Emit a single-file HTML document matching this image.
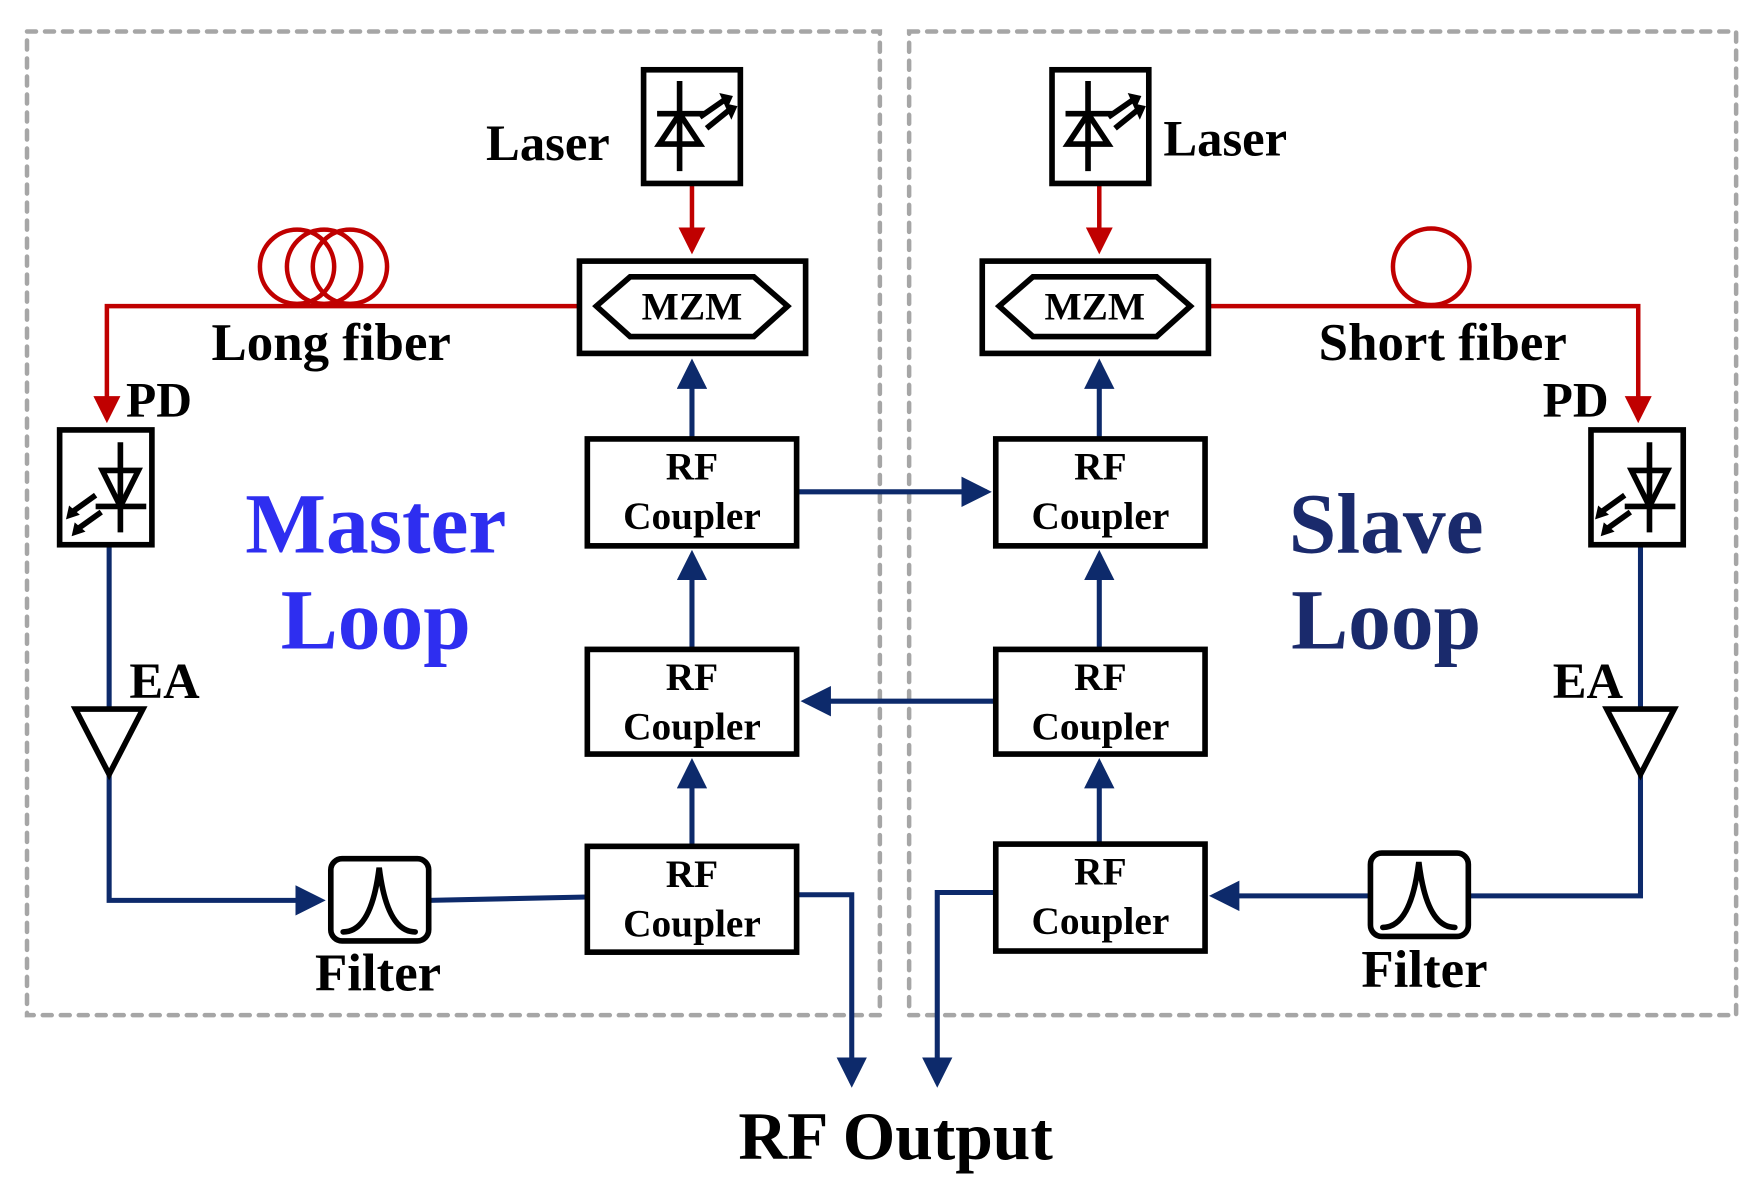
<!DOCTYPE html>
<html><head><meta charset="utf-8"><style>html,body{margin:0;padding:0;background:#fff}svg{display:block}</style></head>
<body>
<svg width="1762" height="1184" viewBox="0 0 1566 1052" preserveAspectRatio="none" xmlns="http://www.w3.org/2000/svg" font-family="Liberation Serif, serif" font-weight="bold">
<defs>
<marker id="ar" markerWidth="6" markerHeight="6" refX="5" refY="3" orient="auto" markerUnits="strokeWidth"><path d="M0,0 L6,3 L0,6 z" fill="#c00000"/></marker>
<marker id="ab" markerWidth="6" markerHeight="6" refX="5" refY="3" orient="auto" markerUnits="strokeWidth"><path d="M0,0 L6,3 L0,6 z" fill="#0d2a6b"/></marker>
</defs>
<g fill="none" stroke="#a6a6a6" stroke-width="4" stroke-dasharray="8,8" stroke-linecap="round">
<rect x="24" y="28" width="758" height="874"/>
<rect x="808" y="28" width="735" height="874"/>
</g>
<g fill="none" stroke="#c00000" stroke-width="4">
<line x1="615" y1="163" x2="615" y2="222" marker-end="url(#ar)"/>
<line x1="977" y1="163" x2="977" y2="222" marker-end="url(#ar)"/>
<polyline points="515,272 95,272 95,372" marker-end="url(#ar)"/>
<polyline points="1074,272 1456,272 1456,372" marker-end="url(#ar)"/>
<circle cx="264" cy="237" r="33"/><circle cx="288" cy="237" r="33"/><circle cx="311" cy="237" r="33"/>
<circle cx="1272" cy="237" r="34"/>
</g>
<g fill="none" stroke="#0d2a6b" stroke-width="4.5">
<line x1="615" y1="752" x2="615" y2="678" marker-end="url(#ab)"/>
<line x1="615" y1="577" x2="615" y2="493" marker-end="url(#ab)"/>
<line x1="615" y1="390" x2="615" y2="323" marker-end="url(#ab)"/>
<line x1="977" y1="750" x2="977" y2="678" marker-end="url(#ab)"/>
<line x1="977" y1="577" x2="977" y2="493" marker-end="url(#ab)"/>
<line x1="977" y1="390" x2="977" y2="323" marker-end="url(#ab)"/>
<line x1="708" y1="437" x2="877" y2="437" marker-end="url(#ab)"/>
<line x1="885" y1="623" x2="716" y2="623" marker-end="url(#ab)"/>
<polyline points="708,795 757,795 757,962" marker-end="url(#ab)"/>
<polyline points="885,793 833,793 833,962" marker-end="url(#ab)"/>
<polyline points="97,484 97,630"/>
<polyline points="97,688 97,800 285,800" marker-end="url(#ab)"/>
<line x1="381" y1="800" x2="522" y2="797"/>
<polyline points="1458,484 1458,630"/>
<polyline points="1458,688 1458,796 1305,796"/>
<line x1="1218" y1="796" x2="1079" y2="796" marker-end="url(#ab)"/>
</g>
<g fill="#fff" stroke="#000" stroke-width="5">
<rect x="572" y="62" width="86" height="101"/>
<rect x="935" y="62" width="86" height="101"/>
<rect x="515" y="232" width="201" height="82"/>
<rect x="873" y="232" width="201" height="82"/>
<rect x="53" y="382" width="82" height="102"/>
<rect x="1414" y="382" width="82" height="102"/>
<rect x="522" y="390" width="186" height="95"/>
<rect x="522" y="577" width="186" height="93"/>
<rect x="522" y="752" width="186" height="94"/>
<rect x="885" y="390" width="186" height="95"/>
<rect x="885" y="577" width="186" height="93"/>
<rect x="885" y="750" width="186" height="95"/>
<rect x="294" y="763" width="87" height="73" rx="10"/>
<rect x="1218" y="758" width="87" height="74" rx="10"/>
<polygon points="67,630 127,630 97,688"/>
<polygon points="1428,630 1488,630 1458,688"/>
</g>
<g fill="none" stroke="#000" stroke-width="5">
<polygon points="530,272 560,246 670,246 700,272 670,299 560,299"/>
<polygon points="888,272 918,246 1028,246 1058,272 1028,299 918,299"/>
<line x1="604" y1="72" x2="604" y2="152"/>
<line x1="584" y1="101" x2="626" y2="101"/>
<polygon points="604,101 586,128 622,128"/>
<line x1="622" y1="104" x2="645" y2="88"/><line x1="628" y1="114" x2="649" y2="97"/>
<line x1="967" y1="72" x2="967" y2="152"/><line x1="947" y1="101" x2="989" y2="101"/><polygon points="967,101 949,128 985,128"/>
<line x1="985" y1="104" x2="1008" y2="88"/><line x1="991" y1="114" x2="1012" y2="97"/>
<line x1="107" y1="393" x2="107" y2="473"/><polygon points="91,418 123,418 107,450"/><line x1="85" y1="450" x2="130" y2="450"/>
<line x1="85" y1="440" x2="64" y2="455"/><line x1="90" y1="455" x2="69" y2="470"/>
<line x1="1466" y1="393" x2="1466" y2="473"/><polygon points="1450,418 1482,418 1466,450"/><line x1="1444" y1="450" x2="1489" y2="450"/>
<line x1="1444" y1="440" x2="1423" y2="455"/><line x1="1449" y1="455" x2="1428" y2="470"/>
<path d="M305,828 Q330,828 337,771 Q344,828 369,828" stroke-linecap="round"/>
<path d="M1229,824 Q1254,824 1261,766 Q1268,824 1293,824" stroke-linecap="round"/>
</g>
<g fill="#000" stroke="#000" stroke-width="2">
<polygon points="641,84 650,86 646,95"/><polygon points="645,93 654,95 650,104"/>
<polygon points="1004,84 1013,86 1009,95"/><polygon points="1008,93 1017,95 1013,104"/>
<polygon points="60,460 62,451 69,457"/><polygon points="65,475 67,466 74,472"/>
<polygon points="1419,460 1421,451 1428,457"/><polygon points="1424,475 1426,466 1433,472"/>
</g>
<g fill="#000">
<text x="432" y="142" font-size="45">Laser</text>
<text x="1034" y="138" font-size="45">Laser</text>
<text x="188" y="320" font-size="47">Long fiber</text>
<text x="1172" y="320" font-size="47">Short fiber</text>
<text x="112" y="370" font-size="44">PD</text>
<text x="1371" y="370" font-size="44">PD</text>
<text x="115" y="620" font-size="45">EA</text>
<text x="1380" y="620" font-size="45">EA</text>
<text x="336" y="880" text-anchor="middle" font-size="47">Filter</text>
<text x="1266" y="877" text-anchor="middle" font-size="47">Filter</text>
<text x="796" y="1030" text-anchor="middle" font-size="60">RF Output</text>
</g>
<g fill="#000" font-size="35" text-anchor="middle">
<text x="615" y="284">MZM</text><text x="973" y="284">MZM</text>
<text x="615" y="426">RF</text><text x="615" y="470">Coupler</text>
<text x="615" y="613">RF</text><text x="615" y="657">Coupler</text>
<text x="615" y="788">RF</text><text x="615" y="832">Coupler</text>
<text x="978" y="426">RF</text><text x="978" y="470">Coupler</text>
<text x="978" y="613">RF</text><text x="978" y="657">Coupler</text>
<text x="978" y="786">RF</text><text x="978" y="830">Coupler</text>
</g>
<g font-size="76" text-anchor="middle">
<text x="334" y="491" fill="#2e2ef0">Master</text>
<text x="334" y="576" fill="#2e2ef0">Loop</text>
<text x="1232" y="491" fill="#1a2a6c">Slave</text>
<text x="1232" y="576" fill="#1a2a6c">Loop</text>
</g>
</svg>
</body></html>
